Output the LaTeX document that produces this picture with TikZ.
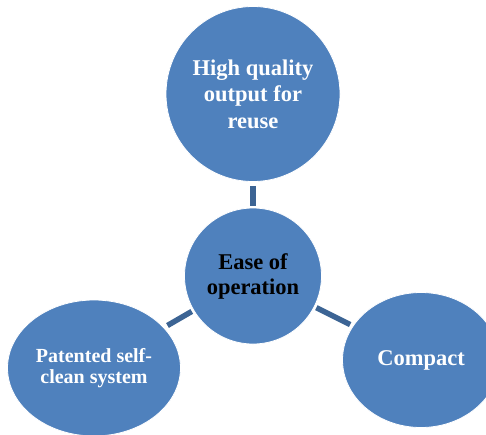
\documentclass[tikz,border=0pt]{standalone}
\usepackage{fontspec}
\setmainfont{Liberation Serif}
\usetikzlibrary{shapes.geometric}
\definecolor{bubble}{HTML}{4F81BD}
\definecolor{link}{HTML}{3C6494}
\tikzset{
  bub/.style={ellipse, fill=bubble, draw=white, line width=0.8pt, inner sep=0pt, align=center, font=\bfseries},
  conn/.style={draw=link, line width=5.5pt}
}
\begin{document}
\begin{tikzpicture}[x=1pt,y=-1pt]
\useasboundingbox (0,0) rectangle (486,434);
\node[bub, minimum width=174pt, minimum height=175pt, text=white, font=\bfseries\fontsize{22.5}{26.5}\selectfont] (top) at (253,94) {High quality\\output for\\reuse};
\node[bub, minimum width=137pt, minimum height=136pt, text=black, font=\bfseries\fontsize{22.5}{25}\selectfont] (c) at (253,276) {Ease of\\operation};
\node[bub, minimum width=173pt, minimum height=136pt, text=white, font=\bfseries\fontsize{20}{21.7}\selectfont] (l) at (94,368) {Patented self-\\clean system};
\node[bub, minimum width=157pt, minimum height=135pt, text=white, font=\bfseries\fontsize{22.5}{24}\selectfont] (r) at (421,360) {Compact};
\draw[conn, shorten <=4pt, shorten >=2pt] (top) -- (c);
\draw[conn, shorten <=2pt, shorten >=4pt] (c) -- (l);
\draw[conn, shorten <=2pt, shorten >=3pt] (c) -- (r);
\end{tikzpicture}
\end{document}
